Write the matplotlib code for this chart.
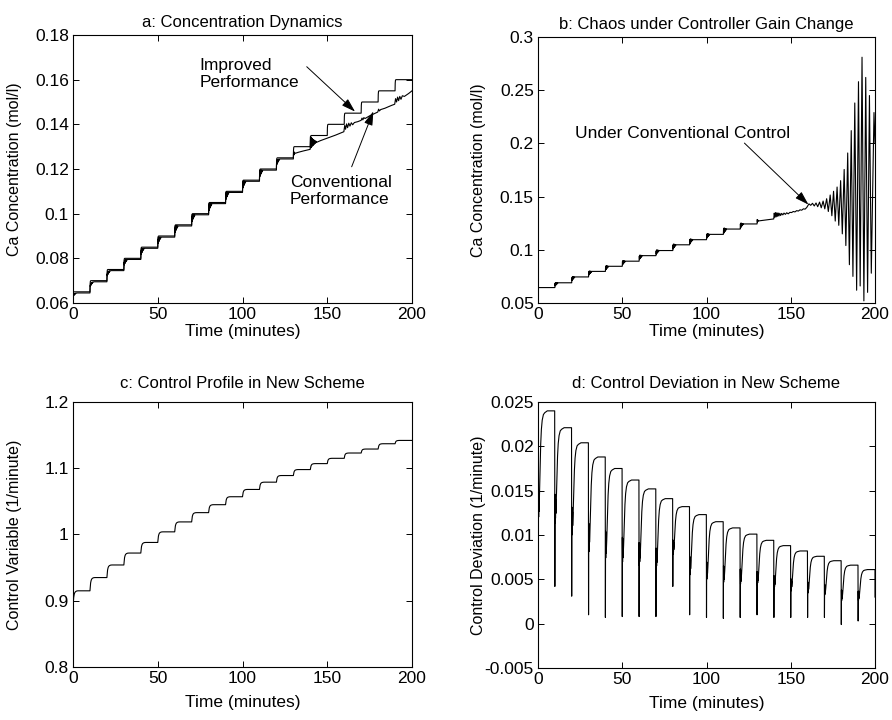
import numpy as np
import matplotlib
matplotlib.use("Agg")
import matplotlib.pyplot as plt

plt.rcParams['font.family'] = ['Liberation Sans', 'DejaVu Sans']

# ---------------- data ----------------
seg_starts = [0, 10, 20, 30, 40, 50, 60, 70, 80, 90,
              100, 110, 120, 130, 140, 150, 160, 170, 180, 190]
t_end = 200

# panel a: setpoint-tracking (improved) staircase
a_improved_levels = [0.065, 0.070, 0.075, 0.080, 0.085, 0.090, 0.095, 0.100, 0.105, 0.110,
                     0.115, 0.120, 0.125, 0.130, 0.135, 0.140, 0.145, 0.150, 0.155, 0.160]
a_start_value = 0.0612
# panel a: conventional, first 13 segments (0-130 min)
a_conv_levels = [0.0645, 0.0695, 0.0745, 0.0795, 0.0845, 0.0895, 0.0945, 0.0995, 0.1045,
                 0.1095, 0.1145, 0.1195, 0.1245]
a_conv_osc = [0.0004, 0.0006, 0.0008, 0.0010, 0.0012, 0.0013, 0.0014, 0.0015, 0.0016,
              0.0016, 0.0015, 0.0014, 0.0010]
# panel a: conventional after 130 min
a_conv_late_t = [130.0, 130.12, 130.25, 130.4, 130.55, 130.7, 131.0, 133.0, 136.0, 139.9,
                 140.1, 140.3, 140.5, 140.7, 140.9, 141.1, 141.3, 141.5, 141.7, 141.9,
                 142.1, 142.3, 142.5, 142.7, 142.9, 143.2, 143.5, 143.9, 146.0, 150.0,
                 155.0, 159.8, 160.3, 160.8, 161.4, 162.0, 162.7, 163.4, 164.2, 165.0,
                 166.0, 168.0, 170.0, 170.5, 171.0, 171.6, 172.3, 175.0, 179.8, 180.3,
                 180.8, 181.5, 184.0, 188.0, 189.8, 190.3, 190.9, 191.5, 192.1, 192.8,
                 193.5, 194.3, 195.5, 198.0, 200.0]
a_conv_late_v = [0.1245, 0.1278, 0.1262, 0.1276, 0.1266, 0.1274, 0.1270, 0.1275, 0.1281, 0.1288,
                 0.1345, 0.1295, 0.1342, 0.1298, 0.1338, 0.1302, 0.1335, 0.1305, 0.1332, 0.1308,
                 0.1330, 0.1311, 0.1328, 0.1314, 0.1326, 0.1317, 0.1324, 0.1320, 0.1327, 0.1338,
                 0.1352, 0.1367, 0.1395, 0.1378, 0.1402, 0.1385, 0.1405, 0.1392, 0.1407, 0.1398,
                 0.1408, 0.1412, 0.1418, 0.1428, 0.1420, 0.1430, 0.1426, 0.1438, 0.1455, 0.1468,
                 0.1460, 0.1466, 0.1472, 0.1485, 0.1490, 0.1515, 0.1500, 0.1522, 0.1506, 0.1525,
                 0.1512, 0.1528, 0.1525, 0.1538, 0.1550]

# panel b: conventional control under gain change, first 13 segments
b_levels = [0.0645, 0.0690, 0.0745, 0.0797, 0.0845, 0.0893, 0.0945, 0.0993, 0.1047,
            0.1095, 0.1145, 0.1195, 0.1243]
b_osc = [0.0, 0.0015, 0.0016, 0.0017, 0.0018, 0.0018, 0.0019, 0.0019, 0.0022,
         0.0020, 0.0020, 0.0024, 0.0022]
b_late_t = [130.0, 130.12, 130.25, 130.4, 130.6, 130.8, 131.2, 135.0, 139.9,
            140.2, 140.6, 141.0, 141.4, 141.8, 142.2, 142.6, 143.0, 143.5, 144.0,
            144.6, 145.3, 146.0, 146.8, 147.6, 148.5, 149.5, 150.5, 151.5, 152.5,
            153.5, 154.5, 155.5, 156.5, 157.5, 158.5, 159.5, 160.8, 161.85, 162.9,
            163.95, 165.0, 166.0, 167.1, 168.1, 169.2, 170.2, 171.3, 172.3, 173.4,
            174.4, 175.4, 176.4, 177.5, 178.5, 179.6, 180.6, 181.7, 182.7, 183.8,
            184.8, 185.9, 186.9, 188.0, 189.1, 190.2, 191.2, 192.3, 193.4, 194.5,
            195.6, 196.7, 197.8, 199.4, 200.0]
b_late_v = [0.1243, 0.1285, 0.1262, 0.1280, 0.1268, 0.1276, 0.1272, 0.1280, 0.1290,
            0.1345, 0.1305, 0.1350, 0.1310, 0.1348, 0.1315, 0.1345, 0.1318, 0.1343, 0.1322,
            0.1342, 0.1328, 0.1345, 0.1333, 0.1348, 0.1338, 0.1352, 0.1350, 0.1360, 0.1356,
            0.1368, 0.1364, 0.1376, 0.1372, 0.1385, 0.1382, 0.1398, 0.1432, 0.1418, 0.1437,
            0.1412, 0.1440, 0.1405, 0.1448, 0.1395, 0.1458, 0.1385, 0.1480, 0.1360, 0.1515,
            0.1320, 0.1550, 0.1270, 0.1590, 0.1230, 0.1650, 0.1150, 0.1755, 0.1040, 0.1910,
            0.0860, 0.2120, 0.0750, 0.2380, 0.0620, 0.2580, 0.0660, 0.2810, 0.0520, 0.2620,
            0.0600, 0.2450, 0.0780, 0.2290, 0.2000]

# panel c: control variable plateaus
c_levels = [0.915, 0.935, 0.954, 0.972, 0.988, 1.004, 1.019, 1.033, 1.045, 1.057,
            1.068, 1.079, 1.089, 1.098, 1.107, 1.115, 1.123, 1.129, 1.137, 1.142]
c_start_value = 0.890

# panel d: control deviation (peak of each segment, trough at each switch)
d_peaks = [0.0240, 0.0221, 0.0204, 0.0188, 0.0175, 0.0162, 0.0152, 0.0141, 0.0132, 0.0123,
           0.0115, 0.0108, 0.0101, 0.0094, 0.0088, 0.0082, 0.0076, 0.0071, 0.0066, 0.0061]
d_troughs = [0.0030, 0.0042, 0.0031, 0.0010, 0.0007, 0.0008, 0.0008, 0.0008, 0.0042, 0.0010,
             0.0007, 0.0006, 0.0007, 0.0010, 0.0007, 0.0007, 0.0007, 0.0007, -0.0001, 0.0003,
             0.0030]

# transient shapes (offset in minutes, fraction of the step)
imp_dt = [0.0, 0.1, 0.25, 0.5]
imp_rise = [0.0, 0.7, 0.95, 1.0]
conv_dt = [0.0, 0.12, 0.25, 0.37, 0.5, 0.62, 0.75, 0.87, 1.0, 1.15, 1.3, 1.5, 1.7, 2.0, 2.5]
conv_rise = [0.0, 0.55, 0.70, 0.75, 0.78, 0.80, 0.82, 0.84, 0.86, 0.88, 0.90, 0.93, 0.95, 0.97, 1.0]
conv_osc = [0.0, 1.0, -1.0, 0.9, -0.85, 0.75, -0.7, 0.6, -0.55, 0.45, -0.4, 0.3, -0.2, 0.1, 0.0]
c_dt = [0.0, 0.2, 0.4, 0.7, 1.0, 1.5, 2.2, 3.0]
c_rise = [0.0, 0.35, 0.6, 0.78, 0.88, 0.95, 0.99, 1.0]
d_dt = [0.0, 0.1, 0.2, 0.3, 0.4, 0.5, 0.6, 0.8, 1.0, 1.3, 1.6, 2.0, 2.5, 3.2, 4.0, 5.5, 7.5, 9.9]
d_frac = [0.0, 0.58, 0.40, 0.57, 0.43, 0.55, 0.46, 0.52, 0.60, 0.72, 0.82, 0.90, 0.95, 0.98,
          0.99, 1.0, 1.0, 1.0]


def stepped(starts, levels, v0, dts, rise, osc=None, amps=None):
    t, v = [], []
    prev = v0
    for k, (ts, lev) in enumerate(zip(starts, levels)):
        for j, dt in enumerate(dts):
            t.append(ts + dt)
            val = prev + (lev - prev) * rise[j]
            if osc is not None:
                val += amps[k] * osc[j]
            v.append(val)
        prev = lev
    return t, v


# improved staircase
a_imp_t, a_imp_v = stepped(seg_starts, a_improved_levels, a_start_value, imp_dt, imp_rise)
a_imp_t.append(t_end); a_imp_v.append(a_improved_levels[-1])
# conventional
n_early = len(a_conv_levels)
a_c_t, a_c_v = stepped(seg_starts[:n_early], a_conv_levels, a_start_value, conv_dt, conv_rise,
                       conv_osc, a_conv_osc)
a_c_t += a_conv_late_t; a_c_v += a_conv_late_v
# panel b
b_t, b_v = stepped(seg_starts[:len(b_levels)], b_levels, b_levels[0], conv_dt, conv_rise,
                   conv_osc, b_osc)
b_t += b_late_t; b_v += b_late_v
# panel c
c_t, c_v = stepped(seg_starts, c_levels, c_start_value, c_dt, c_rise)
c_t.append(t_end); c_v.append(c_levels[-1])
# panel d
d_t, d_v = [], []
for k, ts in enumerate(seg_starts):
    for dt, f in zip(d_dt, d_frac):
        d_t.append(ts + dt)
        d_v.append(d_troughs[k] + (d_peaks[k] - d_troughs[k]) * f)
d_t += [t_end, t_end]; d_v += [d_peaks[-1], d_troughs[-1]]

# ---------------- figure ----------------
fig = plt.figure(figsize=(8.92, 7.2), dpi=100)
W, H = 892.0, 720.0


def make_ax(x0, y0, x1, y1):
    return fig.add_axes([x0 / W, 1 - y1 / H, (x1 - x0) / W, (y1 - y0) / H])


axa = make_ax(73, 35, 412, 303)
axb = make_ax(538, 37, 875, 303)
axc = make_ax(73, 402, 412, 667)
axd = make_ax(538, 402, 875, 668)

TICK_FS = 12.5
XLAB_FS = 12.5
YLAB_FS = 11.5
TITLE_FS = 12
ANN_FS = 12.5
lw = 0.8

for ax in (axa, axb, axc, axd):
    ax.set_xlim(0, 200)
    ax.set_xticks([0, 50, 100, 150, 200])
    ax.tick_params(direction='in', top=True, right=True, length=4, width=0.7,
                   labelsize=TICK_FS, pad=3)
    ax.tick_params(axis='x', pad=3)
    for s in ax.spines.values():
        s.set_linewidth(0.8)

axa.plot(a_imp_t, a_imp_v, color='k', lw=lw)
axa.plot(a_c_t, a_c_v, color='k', lw=lw)
axa.set_ylim(0.06, 0.18)
axa.set_yticks([0.06, 0.08, 0.10, 0.12, 0.14, 0.16, 0.18])
axa.set_yticklabels(['0.06', '0.08', '0.1', '0.12', '0.14', '0.16', '0.18'])
axa.set_title('a: Concentration Dynamics', fontsize=TITLE_FS, pad=6)
axa.set_ylabel('Ca Concentration (mol/l)', fontsize=YLAB_FS)
axa.set_xlabel('Time (minutes)', fontsize=XLAB_FS)
axa.text(74.5, 0.1625, 'Improved\nPerformance', fontsize=ANN_FS, ha='left', va='center')
axa.text(128, 0.1101, 'Conventional\nPerformance', fontsize=ANN_FS, ha='left', va='center')
arrow = dict(arrowstyle='-|>,head_length=0.7,head_width=0.22', color='k', lw=0.7,
             shrinkA=0, shrinkB=0, mutation_scale=12)
axa.annotate('', xy=(166.4, 0.1457), xytext=(137.9, 0.1658), arrowprops=arrow)
axa.annotate('', xy=(177.2, 0.1458), xytext=(164.4, 0.1210), arrowprops=arrow)

axb.plot(b_t, b_v, color='k', lw=lw)
axb.set_ylim(0.05, 0.3)
axb.set_yticks([0.05, 0.10, 0.15, 0.20, 0.25, 0.30])
axb.set_yticklabels(['0.05', '0.1', '0.15', '0.2', '0.25', '0.3'])
axb.set_title('b: Chaos under Controller Gain Change', fontsize=TITLE_FS, pad=6)
axb.set_ylabel('Ca Concentration (mol/l)', fontsize=YLAB_FS)
axb.set_xlabel('Time (minutes)', fontsize=XLAB_FS)
axb.text(22, 0.2093, 'Under Conventional Control', fontsize=ANN_FS, ha='left', va='center')
axb.annotate('', xy=(160.5, 0.1425), xytext=(122.5, 0.2003), arrowprops=arrow)

axc.plot(c_t, c_v, color='k', lw=lw)
axc.set_ylim(0.8, 1.2)
axc.set_yticks([0.8, 0.9, 1.0, 1.1, 1.2])
axc.set_yticklabels(['0.8', '0.9', '1', '1.1', '1.2'])
axc.set_title('c: Control Profile in New Scheme', fontsize=TITLE_FS, pad=10)
axc.set_ylabel('Control Variable (1/minute)', fontsize=YLAB_FS)
axc.set_xlabel('Time (minutes)', fontsize=XLAB_FS)

axd.plot(d_t, d_v, color='k', lw=lw)
axd.set_ylim(-0.005, 0.025)
axd.set_yticks([-0.005, 0, 0.005, 0.01, 0.015, 0.02, 0.025])
axd.set_yticklabels(['-0.005', '0', '0.005', '0.01', '0.015', '0.02', '0.025'])
axd.set_title('d: Control Deviation in New Scheme', fontsize=TITLE_FS, pad=10)
axd.set_ylabel('Control Deviation (1/minute)', fontsize=YLAB_FS)
axd.set_xlabel('Time (minutes)', fontsize=XLAB_FS)

# label placement
axa.yaxis.set_label_coords(-0.150, 0.5)
axc.yaxis.set_label_coords(-0.150, 0.5)
axb.yaxis.set_label_coords(-0.153, 0.5)
axd.yaxis.set_label_coords(-0.153, 0.5)
axa.xaxis.set_label_coords(0.5, -0.080)
axb.xaxis.set_label_coords(0.5, -0.080)
axc.xaxis.set_label_coords(0.5, -0.105)
axd.xaxis.set_label_coords(0.5, -0.105)

fig.savefig('out.png', dpi=100)
